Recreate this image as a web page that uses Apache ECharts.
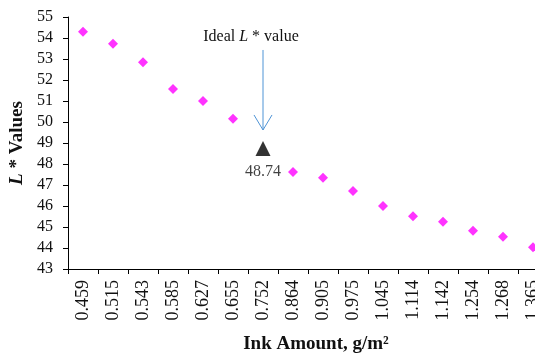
<!DOCTYPE html>
<html>
<head>
<meta charset="utf-8">
<script src="https://cdn.jsdelivr.net/npm/echarts@6/dist/echarts.min.js"></script>
<style>
  html, body { margin: 0; padding: 0; background: #ffffff; }
  #chart { width: 535px; height: 358px; }
</style>
</head>
<body>
<div id="chart"></div>
<script>
// Ink amount (g/m²) categories along the x axis
const inkAmounts = ['0.459', '0.515', '0.543', '0.585', '0.627', '0.655', '0.752', '0.864',
                    '0.905', '0.975', '1.045', '1.114', '1.142', '1.254', '1.268', '1.365'];

// Measured L* values; the 0.752 slot holds the ideal point, drawn separately
const lValues = [54.30, 53.73, 52.84, 51.57, 51.00, 50.16, null, 47.62,
                 47.35, 46.71, 46.00, 45.51, 45.25, 44.82, 44.54, 44.03];

// Ideal L* point
const idealInk = '0.752';
const idealL = 48.74;

// Y axis range and step
const yMin = 43;
const yMax = 55;
const yStep = 1;

// Callout above the ideal point: caption level, arrow start, arrow tip (in L* units)
const calloutCaptionL = 54.05;
const calloutArrowFromL = 53.43;
const calloutArrowToL = 49.62;

const serif = '"Liberation Serif", "Times New Roman", serif';
const idealIndex = inkAmounts.indexOf(idealInk);
const idealData = inkAmounts.map((c, i) => (i === idealIndex ? idealL : null));

const chart = echarts.init(document.getElementById('chart'), null, { renderer: 'canvas' });

chart.setOption({
  backgroundColor: '#ffffff',
  animation: false,
  // The plot area runs past the right edge of the page, so the last column is cut off
  grid: { left: 68, top: 17, width: 480, height: 252, containLabel: false, outerBoundsMode: 'none' },
  xAxis: {
    type: 'category',
    data: inkAmounts,
    boundaryGap: true,
    name: 'Ink Amount, g/m²',
    nameLocation: 'middle',
    nameGap: 66,
    nameTextStyle: {
      fontFamily: serif, fontSize: 19, fontWeight: 'bold', color: '#111',
      padding: [0, 0, 0, 16]
    },
    axisLine: { lineStyle: { color: '#000', width: 1 } },
    axisTick: { show: true, length: 5, lineStyle: { color: '#000' }, alignWithLabel: false },
    axisLabel: {
      rotate: 90, margin: 11, interval: 0,
      fontFamily: serif, fontSize: 18, color: '#111'
    },
    splitLine: { show: false }
  },
  yAxis: {
    type: 'value',
    min: yMin, max: yMax, interval: yStep,
    name: '{i|L} * Values',
    nameLocation: 'middle',
    nameGap: 39,
    nameRotate: 90,
    nameTextStyle: {
      fontFamily: serif, fontSize: 19, fontWeight: 'bold', color: '#111',
      rich: { i: { fontFamily: serif, fontSize: 19, fontWeight: 'bold', fontStyle: 'italic', color: '#111' } }
    },
    axisLine: { show: true, lineStyle: { color: '#000', width: 1 } },
    axisTick: { show: true, length: 5, lineStyle: { color: '#000' } },
    axisLabel: { margin: 15, fontFamily: serif, fontSize: 16, color: '#111' },
    splitLine: { show: false }
  },
  series: [
    {
      name: 'L* values',
      type: 'scatter',
      data: lValues,
      symbol: 'diamond',
      symbolSize: 10,
      itemStyle: { color: '#ff00ff' },
      clip: false
    },
    {
      name: 'Ideal L*',
      type: 'scatter',
      data: idealData,
      symbol: 'triangle',
      symbolSize: [15, 15],
      itemStyle: { color: '#000000' },
      label: {
        show: true,
        position: 'bottom',
        distance: 8,
        formatter: (p) => p.value.toFixed(2),
        fontFamily: serif, fontSize: 16, color: '#111'
      }
    },
    {
      // Caption with a down-pointing open arrow toward the ideal point
      name: 'callout',
      type: 'custom',
      data: [[idealIndex, calloutCaptionL, calloutArrowFromL, calloutArrowToL]],
      silent: true,
      renderItem: function (params, api) {
        const caption = api.coord([api.value(0), api.value(1)]);
        const from = api.coord([api.value(0), api.value(2)]);
        const to = api.coord([api.value(0), api.value(3)]);
        const arrowColor = '#4f94d6';
        return {
          type: 'group',
          children: [
            {
              type: 'text',
              x: caption[0] - 12, y: caption[1],
              style: {
                text: 'Ideal {i|L} * value',
                fontFamily: serif, fontSize: 16, fill: '#111',
                align: 'center', verticalAlign: 'middle',
                rich: { i: { fontFamily: serif, fontSize: 16, fontStyle: 'italic', fill: '#111' } }
              }
            },
            {
              type: 'line',
              shape: { x1: from[0], y1: from[1], x2: to[0], y2: to[1] },
              style: { stroke: arrowColor, lineWidth: 1 }
            },
            {
              type: 'polyline',
              shape: { points: [[to[0] - 9, to[1] - 15], [to[0], to[1]], [to[0] + 9, to[1] - 15]] },
              style: { stroke: arrowColor, lineWidth: 1, fill: null }
            }
          ]
        };
      }
    }
  ]
});
</script>
</body>
</html>
